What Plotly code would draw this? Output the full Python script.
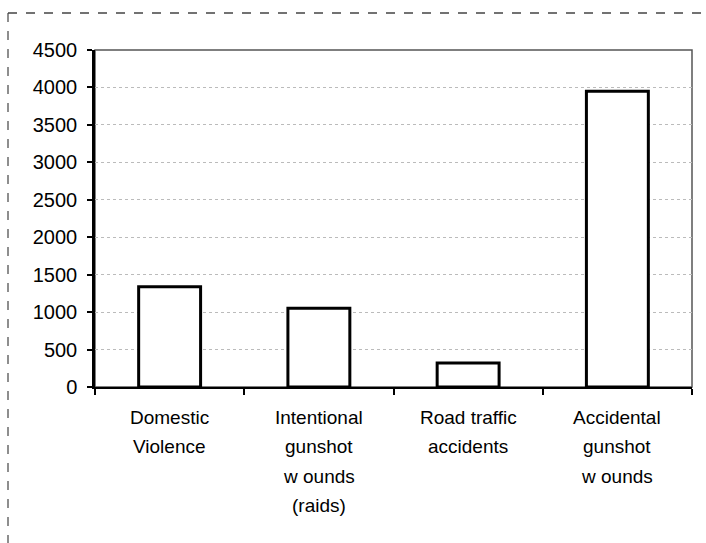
import plotly.graph_objects as go

categories = ["Domestic Violence", "Intentional gunshot wounds (raids)",
              "Road traffic accidents", "Accidental gunshot wounds"]
label_lines = [["Domestic", "Violence"],
               ["Intentional", "gunshot", "w ounds", "(raids)"],
               ["Road traffic", "accidents"],
               ["Accidental", "gunshot", "w ounds"]]
values = [1340, 1050, 320, 3950]
y_ticks = [0, 500, 1000, 1500, 2000, 2500, 3000, 3500, 4000, 4500]

FONT = "Liberation Sans, Arial, sans-serif"

fig = go.Figure(go.Bar(
    x=categories, y=values,
    marker=dict(color="white", line=dict(color="black", width=3)),
    width=0.415,
))

annotations = []
for cat, lines in zip(categories, label_lines):
    for i, ln in enumerate(lines):
        annotations.append(dict(
            x=cat, y=0, xref="x", yref="y", text=ln, showarrow=False,
            yanchor="middle", xanchor="center", yshift=-(30 + 29.5 * i),
            font=dict(family=FONT, size=19, color="black")))

L, R, T, B = 95, 14, 50, 156
W, H = 706, 543
pw, ph = W - L - R, H - T - B
def px_x(px):
    return (px - L) / pw
def px_y(py):
    return (H - B - py) / ph

shapes = [
    dict(type="rect", xref="paper", yref="paper", x0=0, x1=1, y0=0, y1=1,
         line=dict(color="#555555", width=1.5), layer="below"),
    dict(type="line", xref="paper", yref="paper", x0=px_x(8), x1=px_x(706),
         y0=px_y(13), y1=px_y(13), line=dict(color="#444444", width=1.5, dash="dash")),
    dict(type="line", xref="paper", yref="paper", x0=px_x(8), x1=px_x(8),
         y0=px_y(13), y1=px_y(543), line=dict(color="#444444", width=1.2, dash="dash")),
]

fig.update_layout(
    width=W, height=H,
    margin=dict(l=L, r=R, t=T, b=B),
    paper_bgcolor="white", plot_bgcolor="white",
    showlegend=False,
    font=dict(family=FONT, size=19, color="black"),
    annotations=annotations,
    shapes=shapes,
)
fig.update_xaxes(
    showticklabels=False, tickson="boundaries", ticks="outside", ticklen=6,
    tickcolor="black", tickwidth=1.5,
    showline=True, linecolor="black", linewidth=2, showgrid=False,
)
fig.update_yaxes(
    range=[0, 4500], tickvals=y_ticks, ticks="outside", ticklen=5,
    tickcolor="black", tickwidth=1.5,
    showline=True, linecolor="black", linewidth=2.5,
    showgrid=True, gridcolor="#bbbbbb", gridwidth=1, griddash="dot",
    zeroline=False, tickfont=dict(family=FONT, size=20, color="black"),
    ticklabelstandoff=6,
)

fig.write_html("out.html",
               config={"displayModeBar": False},
               post_script="document.body.style.margin='0px';document.body.style.overflow='hidden';")
